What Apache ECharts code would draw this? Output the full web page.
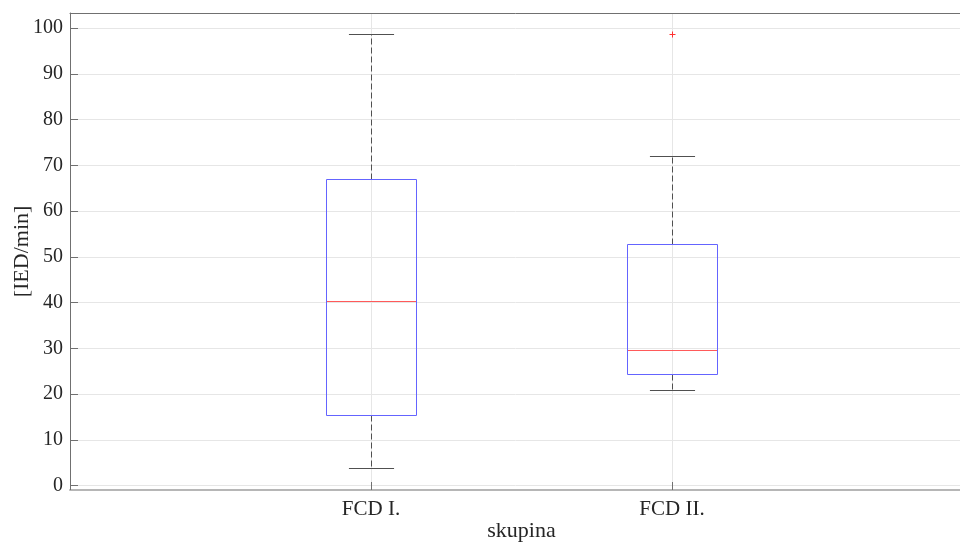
<!DOCTYPE html>
<html>
<head>
<meta charset="utf-8">
<title>IED/min podle skupiny</title>
<script src="https://cdn.jsdelivr.net/npm/echarts@6/dist/echarts.min.js"></script>
<style>
  html, body { margin: 0; padding: 0; background: #ffffff; overflow: hidden; }
  #chart { width: 960px; height: 542px; }
</style>
</head>
<body>
<div id="chart"></div>
<script>
// Box plot statistics per group
const categories = ['FCD I.', 'FCD II.'];
const lowerWhisker = [3.8, 20.8];
const quartile1 = [15.3, 24.2];
const medians = [40.3, 29.4];
const quartile3 = [66.8, 52.6];
const upperWhisker = [98.5, 71.9];
const outliers = [[], [98.6]];
const yTicks = [0, 10, 20, 30, 40, 50, 60, 70, 80, 90, 100];

const FONT = '"Liberation Serif", "DejaVu Serif", serif';
const TEXT = '#262626';
const AXIS = '#707070';
const BOX_WIDTH = 0.3;

// one row per group: [position, lower whisker, Q1, median, Q3, upper whisker]
const boxRows = categories.map((_, i) => [i + 1, lowerWhisker[i], quartile1[i], medians[i], quartile3[i], upperWhisker[i]]);
const outlierRows = [];
outliers.forEach((vals, i) => vals.forEach(v => outlierRows.push([i + 1, v])));

const crisp = v => Math.round(v - 0.5) + 0.5;
const pix = v => Math.round(v - 0.5);

function renderBox(params, api) {
  const x = api.value(0);
  const p = v => api.coord([x, v]);
  const cx = crisp(p(0)[0]);
  const half = api.size([BOX_WIDTH, 0])[0] / 2;
  const capHalf = half / 2;
  const yLw = crisp(p(api.value(1))[1]);
  const yQ1 = crisp(p(api.value(2))[1]);
  const yMd = p(api.value(3))[1];
  const yQ3 = crisp(p(api.value(4))[1]);
  const yUw = crisp(p(api.value(5))[1]);
  const whiskerStyle = { stroke: '#505050', lineWidth: 1, lineDash: [6, 3] };
  const capStyle = { stroke: '#505050', lineWidth: 1 };
  const boxStyle = { stroke: '#6464ff', lineWidth: 1 };
  const left = crisp(cx - half), right = crisp(cx + half);
  return {
    type: 'group',
    children: [
      { type: 'line', silent: true, shape: { x1: cx, y1: yQ3, x2: cx, y2: yUw }, style: whiskerStyle },
      { type: 'line', silent: true, shape: { x1: cx, y1: yQ1, x2: cx, y2: yLw }, style: whiskerStyle },
      { type: 'line', silent: true, shape: { x1: cx - capHalf, y1: yUw, x2: cx + capHalf, y2: yUw }, style: capStyle },
      { type: 'line', silent: true, shape: { x1: cx - capHalf, y1: yLw, x2: cx + capHalf, y2: yLw }, style: capStyle },
      { type: 'line', silent: true, shape: { x1: left, y1: yQ3, x2: right, y2: yQ3 }, style: boxStyle },
      { type: 'line', silent: true, shape: { x1: left, y1: yQ1, x2: right, y2: yQ1 }, style: boxStyle },
      { type: 'line', silent: true, shape: { x1: left, y1: yQ3, x2: left, y2: yQ1 }, style: boxStyle },
      { type: 'line', silent: true, shape: { x1: right, y1: yQ3, x2: right, y2: yQ1 }, style: boxStyle },
      // median drawn as a one-pixel filled band
      { type: 'rect', silent: true, z2: 10,
        shape: { x: left + 0.5, y: pix(yMd), width: right - left - 1, height: 1 },
        style: { fill: '#ff5a5a' } }
    ]
  };
}

function renderOutlier(params, api) {
  const pt = api.coord([api.value(0), api.value(1)]);
  const cx = crisp(pt[0]), cy = crisp(pt[1]);
  const r = 3;
  const s = { stroke: '#ff3030', lineWidth: 1 };
  return {
    type: 'group',
    children: [
      { type: 'line', silent: true, shape: { x1: cx - r, y1: cy, x2: cx + r, y2: cy }, style: s },
      { type: 'line', silent: true, shape: { x1: cx, y1: cy - r, x2: cx, y2: cy + r }, style: s }
    ]
  };
}

const chart = echarts.init(document.getElementById('chart'), null, { renderer: 'canvas' });

chart.setOption({
  animation: false,
  backgroundColor: '#ffffff',
  textStyle: { fontFamily: FONT },
  grid: [
    // outer frame: axis lines, x ticks, category labels
    { left: 70, right: -13, top: 13, bottom: 52, containLabel: false, outerBoundsMode: 'none' },
    // data area: 0..100 scale
    { left: 70, right: -13, top: 28, bottom: 56.5, containLabel: false, outerBoundsMode: 'none' }
  ],
  xAxis: [
    {
      gridIndex: 0, type: 'value', min: 0, max: 3, interval: 1, position: 'bottom',
      name: 'skupina', nameLocation: 'middle', nameGap: 30, nameMoveOverlap: false,
      nameTextStyle: { fontFamily: FONT, fontSize: 22, color: TEXT },
      axisLine: { show: true, lineStyle: { color: '#b6b6b6', width: 2 } },
      axisTick: { show: true, inside: true, length: 8, lineStyle: { color: AXIS } },
      axisLabel: {
        margin: 9, fontFamily: FONT, fontSize: 21, color: TEXT,
        formatter: v => (v >= 1 && v <= categories.length && Number.isInteger(v)) ? categories[v - 1] : ''
      },
      splitLine: { show: true, lineStyle: { color: '#e6e6e6', width: 1 } }
    },
    {
      gridIndex: 0, type: 'value', min: 0, max: 3, position: 'top',
      axisLine: { show: true, onZero: false, lineStyle: { color: AXIS, width: 1 } },
      axisTick: { show: false }, axisLabel: { show: false }, splitLine: { show: false }
    },
    {
      gridIndex: 1, type: 'value', min: 0, max: 3, show: false,
      splitLine: { show: false }
    }
  ],
  yAxis: [
    {
      gridIndex: 0, type: 'value', min: 0, max: 1,
      name: '[IED/min]', nameLocation: 'middle', nameGap: 37, nameRotate: 90,
      nameTextStyle: { fontFamily: FONT, fontSize: 22, color: TEXT },
      axisLine: { show: true, lineStyle: { color: AXIS, width: 1 } },
      axisTick: { show: false }, axisLabel: { show: false }, splitLine: { show: false }
    },
    {
      gridIndex: 1, type: 'value', min: yTicks[0], max: yTicks[yTicks.length - 1], interval: 10,
      axisLine: { show: false },
      axisTick: { show: true, inside: true, length: 8, lineStyle: { color: AXIS } },
      axisLabel: { margin: 7, fontFamily: FONT, fontSize: 20, color: TEXT },
      splitLine: { show: true, lineStyle: { color: '#e6e6e6', width: 1 } }
    }
  ],
  series: [
    {
      type: 'custom', xAxisIndex: 2, yAxisIndex: 1, silent: true,
      renderItem: renderBox, data: boxRows, clip: false, z: 5
    },
    {
      type: 'custom', xAxisIndex: 2, yAxisIndex: 1, silent: true,
      renderItem: renderOutlier, data: outlierRows, clip: false, z: 6
    }
  ]
});
</script>
</body>
</html>
